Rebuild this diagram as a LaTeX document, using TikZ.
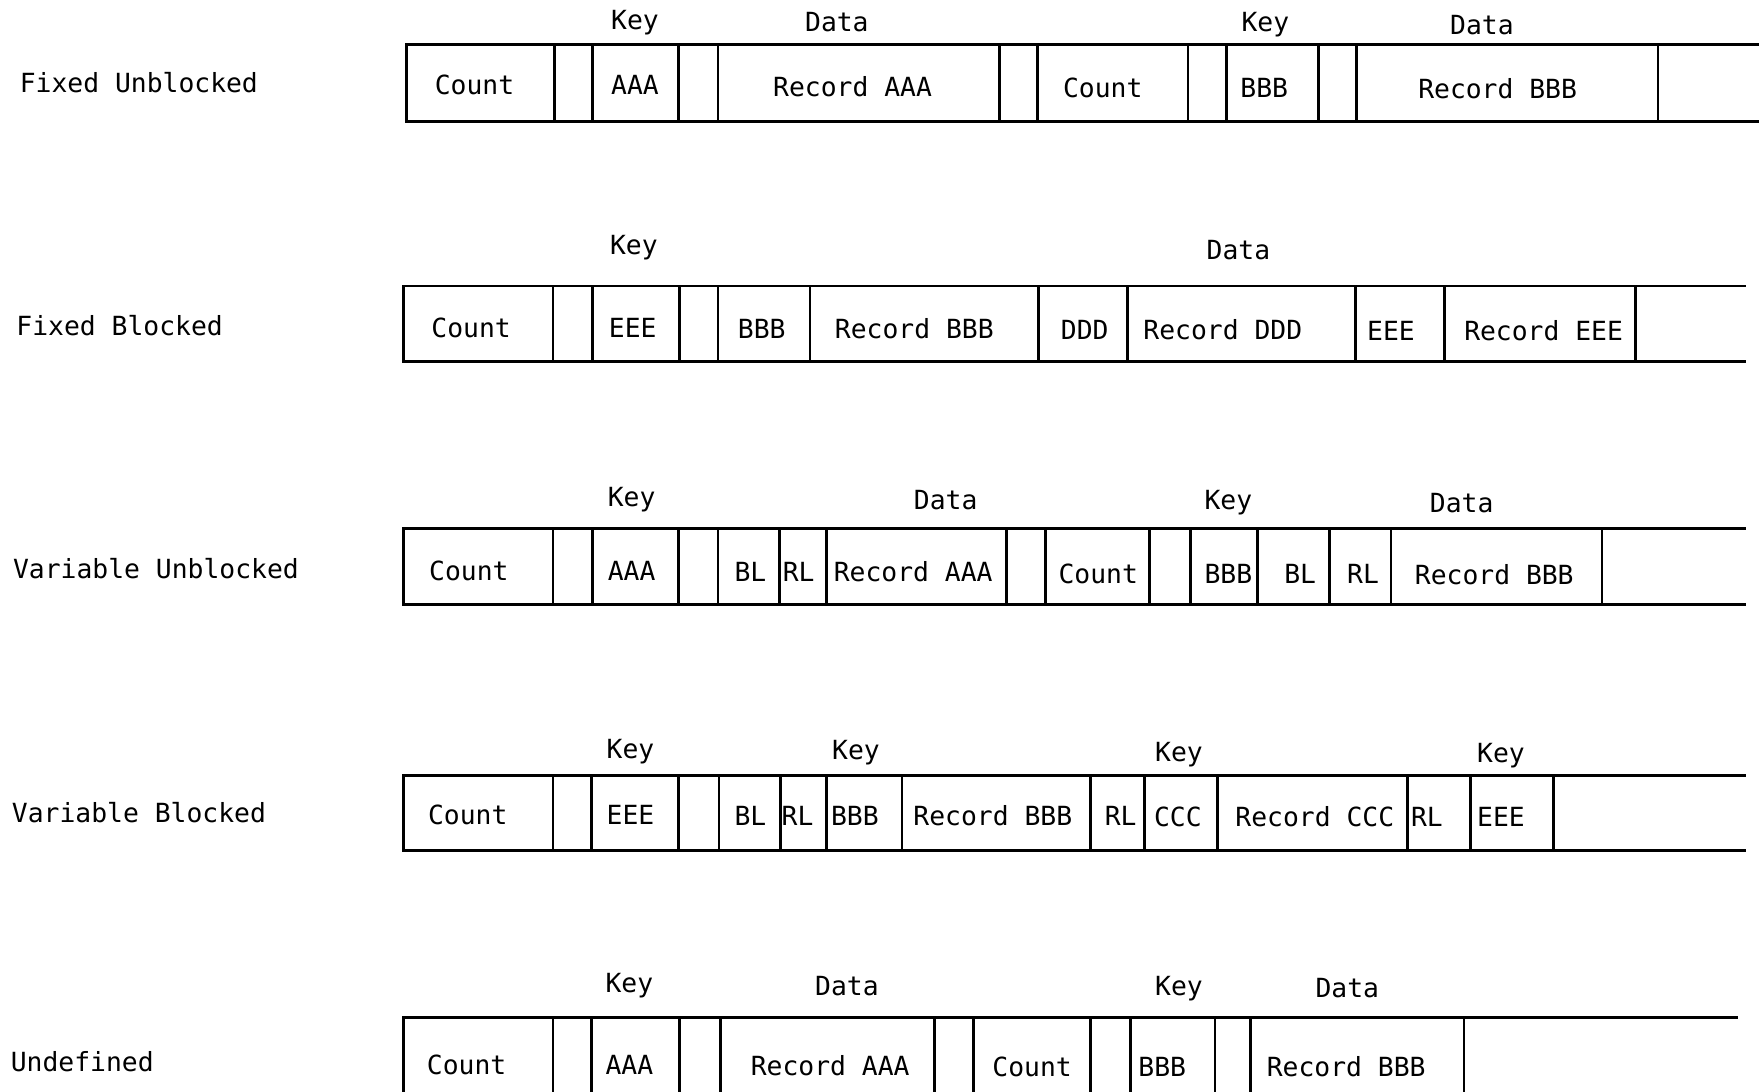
\documentclass[tikz,border=0pt]{standalone}
\usepackage{fontspec}
\usepackage{tikz}
\newfontfamily\recfont{DejaVu Sans Mono}
\tikzset{
  field/.style={font=\recfont\fontsize{7.5}{9}\selectfont, inner sep=0pt},
  head/.style={field},
  rowname/.style={field, anchor=west},
  frame/.style={line width=0.8pt, draw=black, line cap=rect}
}

\begin{document}
\begin{tikzpicture}[x=0.011218cm, y=-0.011218cm]
  \useasboundingbox (0,0) rectangle (1568,973);

  % Fixed Unblocked
  \node[rowname] (fu) at (17,74) {Fixed Unblocked};
  \draw[frame] (1568,40) -- (362,40) -- (362,108) -- (1568,108);
  \foreach \x in {494,528,605,640,891,925,1059,1093,1175,1209,1478}
    \draw[frame] (\x,40) -- (\x,108);
  \foreach \x/\y/\t [count=\i] in {566/20/Key, 746/20/Data, 1128/22/Key, 1321/22/Data}
    \node[head] (fuh\i) at (\x,\y) {\t};
  \foreach \x/\y/\t [count=\i] in {423/76/Count, 566/76/AAA, 760/77/Record AAA,
      983/78/Count, 1127/78/BBB, 1335/79/Record BBB}
    \node[field] (fuf\i) at (\x,\y) {\t};

  % Fixed Blocked
  \node[rowname] (fb) at (14,290) {Fixed Blocked};
  \draw[frame] (1555,255) -- (360,255) -- (360,322) -- (1555,322);
  \foreach \x in {493,528,606,640,722,926,1005,1208,1288,1458}
    \draw[frame] (\x,255) -- (\x,322);
  \foreach \x/\y/\t [count=\i] in {565/221/Key, 1104/223/Data}
    \node[head] (fbh\i) at (\x,\y) {\t};
  \foreach \x/\y/\t [count=\i] in {420/292/Count, 564/292/EEE, 679/293/BBB,
      815/293/Record BBB, 967/294/DDD, 1090/294/Record DDD, 1240/295/EEE,
      1376/295/Record EEE}
    \node[field] (fbf\i) at (\x,\y) {\t};

  % Variable Unblocked
  \node[rowname] (vu) at (11,507) {Variable Unblocked};
  \draw[frame] (1555,471) -- (360,471) -- (360,539) -- (1555,539);
  \foreach \x in {493,528,605,640,695,737,897,932,1025,1061,1121,1185,1240,1428}
    \draw[frame] (\x,471) -- (\x,539);
  \foreach \x/\y/\t [count=\i] in {563/445/Key, 843/446/Data, 1095/448/Key, 1303/448/Data}
    \node[head] (vuh\i) at (\x,\y) {\t};
  \foreach \x/\y/\t [count=\i] in {418/509/Count, 563/509/AAA, 669/510/BL,
      712/510/RL, 814/510/Record AAA, 979/512/Count, 1095/512/BBB,
      1159/512/BL, 1215/512/RL, 1332/512/Record BBB}
    \node[field] (vuf\i) at (\x,\y) {\t};

  % Variable Blocked
  \node[rowname] (vb) at (10,724) {Variable Blocked};
  \draw[frame] (1555,691) -- (360,691) -- (360,758) -- (1555,758);
  \foreach \x in {493,527,605,641,696,737,804,972,1020,1085,1255,1311,1385}
    \draw[frame] (\x,691) -- (\x,758);
  \foreach \x/\y/\t [count=\i] in {562/670/Key, 763/671/Key, 1051/673/Key, 1338/674/Key}
    \node[head] (vbh\i) at (\x,\y) {\t};
  \foreach \x/\y/\t [count=\i] in {417/726/Count, 562/726/EEE, 669/727/BL,
      711/727/RL, 762/727/BBB, 885/727/Record BBB, 999/727/RL, 1050/728/CCC,
      1172/728/Record CCC, 1272/728/RL, 1338/728/EEE}
    \node[field] (vbf\i) at (\x,\y) {\t};

  % Undefined
  \node[rowname] (ud) at (9,946) {Undefined};
  \draw[frame] (1548,907) -- (360,907) -- (360,973);
  \foreach \x in {493,527,606,642,833,868,972,1008,1083,1115,1305}
    \draw[frame] (\x,907) -- (\x,973);
  \foreach \x/\y/\t [count=\i] in {561/879/Key, 755/879/Data, 1051/881/Key, 1201/881/Data}
    \node[head] (udh\i) at (\x,\y) {\t};
  \foreach \x/\y/\t [count=\i] in {416/949/Count, 561/949/AAA, 740/950/Record AAA,
      920/951/Count, 1036/951/BBB, 1200/951/Record BBB}
    \node[field] (udf\i) at (\x,\y) {\t};
\end{tikzpicture}
\end{document}
